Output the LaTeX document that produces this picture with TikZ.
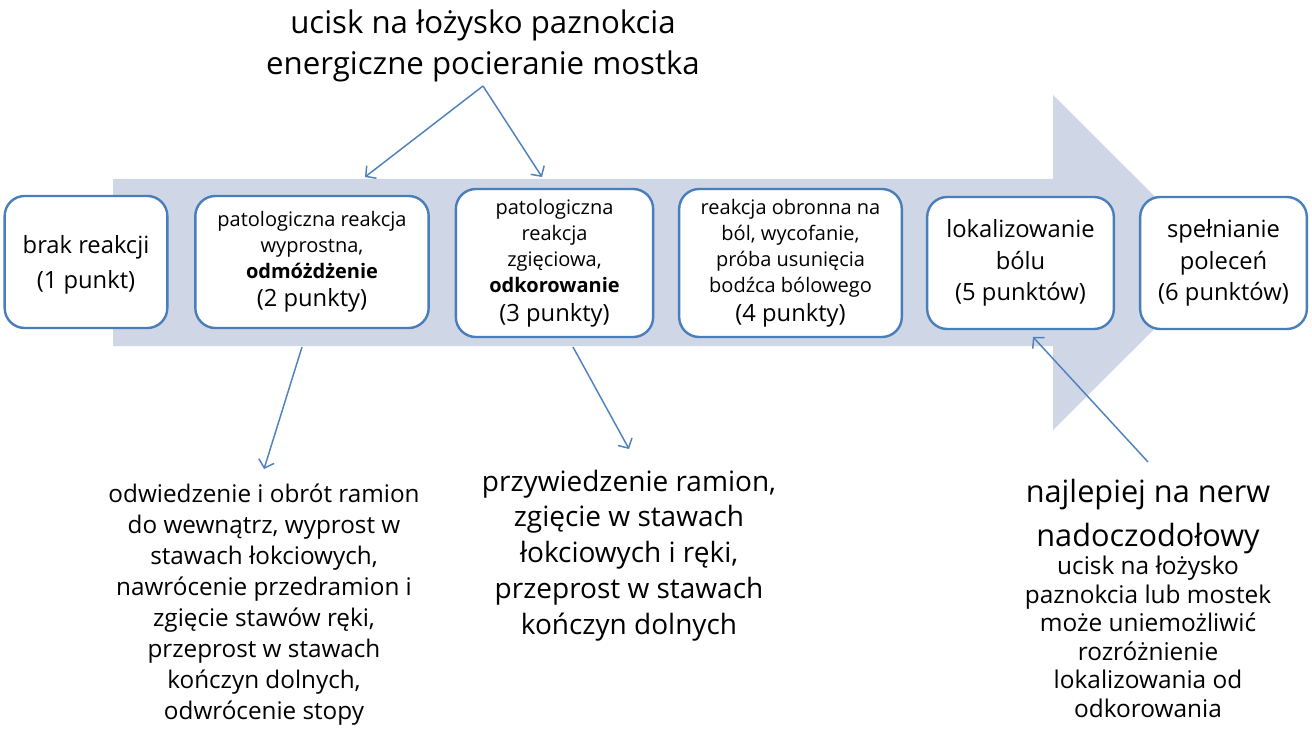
\documentclass[tikz,border=0pt]{standalone}
\usepackage{fontspec}
\setmainfont{Open Sans}
\usepackage{xcolor}
\usepackage{tikz}
\usetikzlibrary{arrows.meta}

\begin{document}
\begin{tikzpicture}[x=0.75pt, y=-0.75pt,
        stage/.style={draw=stageline, line width=1.8pt, fill=white, rounded corners=15pt,
                align=center, inner sep=2pt, minimum height=99pt},
        pointer/.style={draw=pointerline, line width=1.1pt, -{Straight Barb[length=5.5pt, width=12pt]}},
        note/.style={align=center, inner sep=0pt}]
        % Define colors
        \definecolor{flowfill}{RGB}{207,214,230}
        \definecolor{stageline}{RGB}{74,126,187}
        \definecolor{pointerline}{RGB}{79,129,189}

        \useasboundingbox (0,0) rectangle (1312,741);

        % Big arrow behind the stages
        \fill[flowfill] (113,179) -- (1053,179) -- (1053,95) -- (1221,262.5)
                -- (1053,430) -- (1053,346) -- (113,346) -- cycle;

        % Stages of the motor response
        \node[stage, minimum width=122pt, text depth=-4pt, font=\fontsize{17.8}{26.3}\selectfont] (motor1) at (86,262)
                {brak reakcji\\ (1 punkt)};
        \node[stage, minimum width=175pt, font=\fontsize{15}{19.5}\selectfont] (motor2) at (312,262)
                {patologiczna reakcja\\ wyprostna,\\ \textbf{odmóżdżenie}\\[1.5pt] {\fontsize{17.8}{21}\selectfont (2 punkty)}};
        \node[stage, minimum width=148pt, minimum height=111pt, font=\fontsize{15}{19.5}\selectfont] (motor3) at (554.5,263)
                {patologiczna\\ reakcja\\ zgięciowa,\\ \textbf{odkorowanie}\\[2pt] {\fontsize{17.8}{21}\selectfont (3 punkty)}};
        \node[stage, minimum width=167pt, minimum height=111pt, font=\fontsize{15}{19.5}\selectfont] (motor4) at (790.5,263)
                {reakcja obronna na\\ ból, wycofanie,\\ próba usunięcia\\ bodźca bólowego\\[2pt] {\fontsize{17.8}{21}\selectfont (4 punkty)}};
        \node[stage, minimum width=140pt, font=\fontsize{17.8}{23.6}\selectfont] (motor5) at (1020.5,263)
                {lokalizowanie\\ bólu\\ (5 punktów)};
        \node[stage, minimum width=125pt, font=\fontsize{17.8}{23.6}\selectfont] (motor6) at (1223.5,263)
                {spełnianie\\ poleceń\\ (6 punktów)};

        % Stimulus and its targets
        \node[note, anchor=south, inner ysep=3pt, font=\fontsize{23.4}{30.7}\selectfont] (stim) at (483,86)
                {ucisk na łożysko paznokcia\\ energiczne pocieranie mostka};
        \coordinate (hitL) at (365,177);
        \coordinate (hitR) at (542,177);
        \draw[pointer] (stim.south) -- (hitL);
        \draw[pointer] (stim.south) -- (hitR);

        % Descriptions of the pathological responses
        \node[note, anchor=north, inner ysep=11pt, font=\fontsize{18.2}{23.3}\selectfont] (extens) at (264,469)
                {odwiedzenie i obrót ramion\\ do wewnątrz, wyprost w\\ stawach łokciowych,\\ nawrócenie przedramion i\\
                 zgięcie stawów ręki,\\ przeprost w stawach\\ kończyn dolnych,\\ odwrócenie stopy};
        \node[note, anchor=north, inner ysep=15.5pt, font=\fontsize{21}{26.8}\selectfont] (flexion) at (629,449)
                {przywiedzenie ramion,\\ zgięcie w stawach\\ łokciowych i ręki,\\ przeprost w stawach\\ kończyn dolnych};
        \coordinate (extFrom) at (302,347);
        \coordinate (flexFrom) at (573,347);
        \draw[pointer] (extFrom) -- (extens.north);
        \draw[pointer] (flexFrom) -- (flexion.north);

        % Hint about where to apply the stimulus
        \node[note, anchor=north, inner ysep=13pt, font=\fontsize{18.3}{21.4}\selectfont] (hint) at (1148,462)
                {{\fontsize{23}{30}\selectfont najlepiej na nerw}\\[8.5pt] {\fontsize{23}{30}\selectfont nadoczodołowy}\\
                 ucisk na łożysko\\ paznokcia lub mostek\\ może uniemożliwić\\ rozróżnienie\\ lokalizowania od\\ odkorowania};
        \coordinate (locTip) at (1033,337);
        \draw[pointer] (hint.north) -- (locTip);
\end{tikzpicture}
\end{document}
